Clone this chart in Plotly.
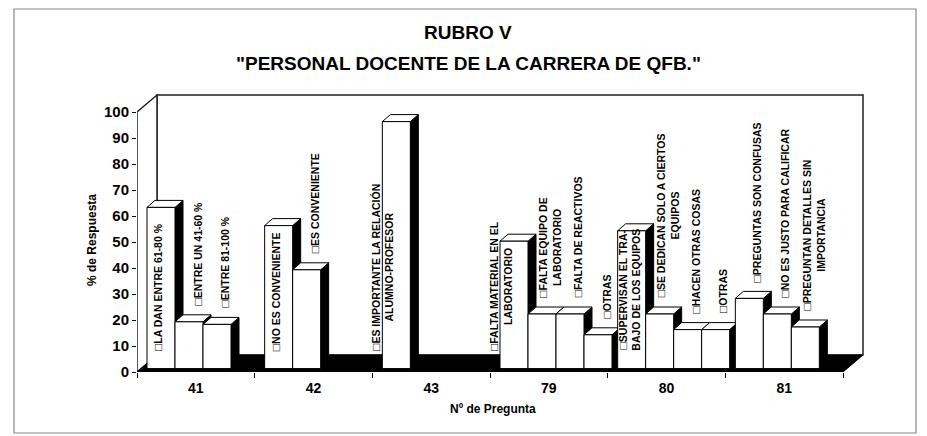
import plotly.graph_objects as go

# ---------------- data ----------------
categories = ["41", "42", "43", "79", "80", "81"]

q41_values = [62, 18, 17]
q42_values = [55, 38]
q43_values = [95]
q79_values = [49, 21, 21, 13]
q80_values = [53, 21, 15, 15]
q81_values = [27, 21, 16]

q41_labels = ["LA DAN ENTRE 61-80 %", "ENTRE UN 41-60 %", "ENTRE 81-100 %"]
q42_labels = ["NO ES CONVENIENTE", "ES CONVENIENTE"]
q43_labels = ["ES IMPORTANTE LA RELACIÓN<br>ALUMNO-PROFESOR"]
q79_labels = ["FALTA MATERIAL EN EL<br>LABORATORIO", "FALTA EQUIPO DE<br>LABORATORIO",
              "FALTA DE REACTIVOS", "OTRAS"]
q80_labels = ["SUPERVISAN EL TRA-<br>BAJO DE LOS EQUIPOS", "SE DEDICAN SOLO A CIERTOS<br>EQUIPOS",
              "HACEN OTRAS COSAS", "OTRAS"]
q81_labels = ["PREGUNTAS SON CONFUSAS", "NO ES JUSTO PARA CALIFICAR",
              "PREGUNTAN DETALLES SIN<br>IMPORTANCIA"]

y_ticks = [0, 10, 20, 30, 40, 50, 60, 70, 80, 90, 100]

groups_values = [q41_values, q42_values, q43_values, q79_values, q80_values, q81_values]
groups_labels = [q41_labels, q42_labels, q43_labels, q79_labels, q80_labels, q81_labels]

# label placement style (not data)
label_modes = [["in", "out", "out"], ["in", "out"], ["edge"],
               ["edge", "out", "out", "out"], ["in", "out", "out", "out"],
               ["out", "out", "out"]]

# ---------------- geometry (pixels of the screenshot) ----------------
PAGE_OFF = 8                       # default body margin of the html page
W, H = 927 - PAGE_OFF, 436 - PAGE_OFF
FRONT_L, FRONT_R = 137, 843
BASE_PX, TOP_PX = 372, 112
PLOT_R, PLOT_T = 866, 93
px_cat = (FRONT_R - FRONT_L) / len(categories)
px_unit = (BASE_PX - TOP_PX) / 100.0
xmax = (PLOT_R - FRONT_L) / px_cat
ymax = (BASE_PX - PLOT_T) / px_unit

FLOOR_DX = 20 / px_cat
FLOOR_DY = 17 / px_unit
BAR_DX = 8 / px_cat
BAR_DY = 7 / px_unit
BAR_W = 28 / px_cat
BAR_OFF = 10 / px_cat
BAR_BASE = 3.4 / px_unit

FONT = "Liberation Sans, Arial, Helvetica, sans-serif"
KEY = "<span style='font-size:12px;font-weight:normal'>□</span>"


def px_to_paper_x(px):
    return (px - FRONT_L) / (PLOT_R - FRONT_L)


def px_to_paper_y(py):
    return (BASE_PX - py) / (BASE_PX - PLOT_T)


# ---------------- build bars ----------------
bar_x, bar_y, lefts = [], [], []
for gi, vals in enumerate(groups_values):
    for k, v in enumerate(vals):
        left = gi + BAR_OFF + k * BAR_W
        lefts.append(left)
        bar_x.append(left + BAR_W / 2)
        bar_y.append(v)

fig = go.Figure()
fig.add_trace(go.Bar(
    x=bar_x, y=bar_y, base=BAR_BASE, width=BAR_W,
    marker=dict(color="white", line=dict(color="black", width=1)),
    hoverinfo="skip", showlegend=False,
))

shapes = []
n = len(categories)
# back wall
shapes.append(dict(type="rect", xref="x", yref="y", layer="below",
                   x0=FLOOR_DX, y0=FLOOR_DY, x1=n + FLOOR_DX, y1=100 + FLOOR_DY,
                   fillcolor="white", line=dict(color="#222", width=1.5)))
# left wall
shapes.append(dict(type="path", xref="x", yref="y", layer="below",
                   path=f"M 0 0 L 0 100 L {FLOOR_DX} {100 + FLOOR_DY} L {FLOOR_DX} {FLOOR_DY} Z",
                   fillcolor="white", line=dict(color="#222", width=1.5)))
# floor
shapes.append(dict(type="path", xref="x", yref="y", layer="below",
                   path=f"M 0 0 L {n} 0 L {n + FLOOR_DX} {FLOOR_DY} L {FLOOR_DX} {FLOOR_DY} Z",
                   fillcolor="black", line=dict(color="black", width=1)))

# bar side faces
for left, v in zip(lefts, bar_y):
    r = left + BAR_W
    top = BAR_BASE + v
    shapes.append(dict(type="path", xref="x", yref="y", layer="below",
                       path=(f"M {r} {BAR_BASE} L {r} {top} L {r + BAR_DX} {top + BAR_DY} "
                             f"L {r + BAR_DX} {BAR_BASE + BAR_DY} Z"),
                       fillcolor="black", line=dict(color="black", width=1)))
# bar top faces
for left, v in zip(lefts, bar_y):
    r = left + BAR_W
    top = BAR_BASE + v
    shapes.append(dict(type="path", xref="x", yref="y", layer="below",
                       path=(f"M {left} {top} L {left + BAR_DX} {top + BAR_DY} "
                             f"L {r + BAR_DX} {top + BAR_DY} L {r} {top} Z"),
                       fillcolor="white", line=dict(color="black", width=1)))

# outer border
shapes.append(dict(type="rect", xref="paper", yref="paper",
                   x0=px_to_paper_x(14), x1=px_to_paper_x(916),
                   y0=px_to_paper_y(433), y1=px_to_paper_y(9),
                   line=dict(color="#888", width=1.2), fillcolor="rgba(0,0,0,0)"))

annotations = []
# bar labels
idx = 0
for gi, labs in enumerate(groups_labels):
    for k, lab in enumerate(labs):
        left = lefts[idx]
        v = bar_y[idx]
        mode = label_modes[gi][k]
        center = left + BAR_W / 2
        if mode == "out":
            ax_x = center + 8 / px_cat
            ax_y = BAR_BASE + v + 5.5
        elif mode == "in":
            ax_x = center - 3 / px_cat
            ax_y = BAR_BASE + 6
        else:
            ax_x = left
            ax_y = BAR_BASE + 6
        annotations.append(dict(
            x=ax_x, y=ax_y, xref="x", yref="y", text=KEY + lab, showarrow=False,
            textangle=-90, xanchor="center", yanchor="bottom",
            font=dict(family=FONT, size=10.5, color="black", weight="bold")))
        idx += 1

# titles
annotations.append(dict(x=px_to_paper_x(468), y=px_to_paper_y(33), xref="paper", yref="paper",
                        text="RUBRO V", showarrow=False, xanchor="center", yanchor="middle",
                        font=dict(family=FONT, size=19, color="black", weight="bold")))
annotations.append(dict(x=px_to_paper_x(468), y=px_to_paper_y(63), xref="paper", yref="paper",
                        text="\"PERSONAL DOCENTE DE LA CARRERA DE QFB.\"", showarrow=False,
                        xanchor="center", yanchor="middle",
                        font=dict(family=FONT, size=19, color="black", weight="bold")))
annotations.append(dict(x=px_to_paper_x(92), y=px_to_paper_y(240), xref="paper", yref="paper",
                        text="% de Respuesta", showarrow=False, textangle=-90,
                        xanchor="center", yanchor="middle",
                        font=dict(family=FONT, size=12, color="black", weight="bold")))
annotations.append(dict(x=px_to_paper_x(493), y=px_to_paper_y(409), xref="paper", yref="paper",
                        text="Nº de Pregunta", showarrow=False,
                        xanchor="center", yanchor="middle",
                        font=dict(family=FONT, size=12, color="black", weight="bold")))

fig.update_layout(
    width=W, height=H,
    margin=dict(l=FRONT_L - PAGE_OFF, r=W + PAGE_OFF - PLOT_R, t=PLOT_T - PAGE_OFF,
                b=H + PAGE_OFF - BASE_PX, autoexpand=False),
    paper_bgcolor="white", plot_bgcolor="rgba(0,0,0,0)",
    shapes=shapes, annotations=annotations, showlegend=False,
    xaxis=dict(range=[0, xmax], showgrid=False, zeroline=False, showline=False,
               tickvals=[i + 0.5 for i in range(n)], ticktext=categories,
               ticks="", ticklabelstandoff=6,
               tickfont=dict(family=FONT, size=14, color="black", weight="bold"),
               minor=dict(tick0=0, dtick=1, ticks="outside", ticklen=5, tickcolor="black",
                          tickwidth=1, showgrid=False)),
    yaxis=dict(range=[0, ymax], showgrid=False, zeroline=False, showline=False,
               tickvals=y_ticks, ticks="outside", ticklen=4, tickcolor="black",
               tickfont=dict(family=FONT, size=15, color="black", weight="bold")),
)

fig.write_html("out.html")
